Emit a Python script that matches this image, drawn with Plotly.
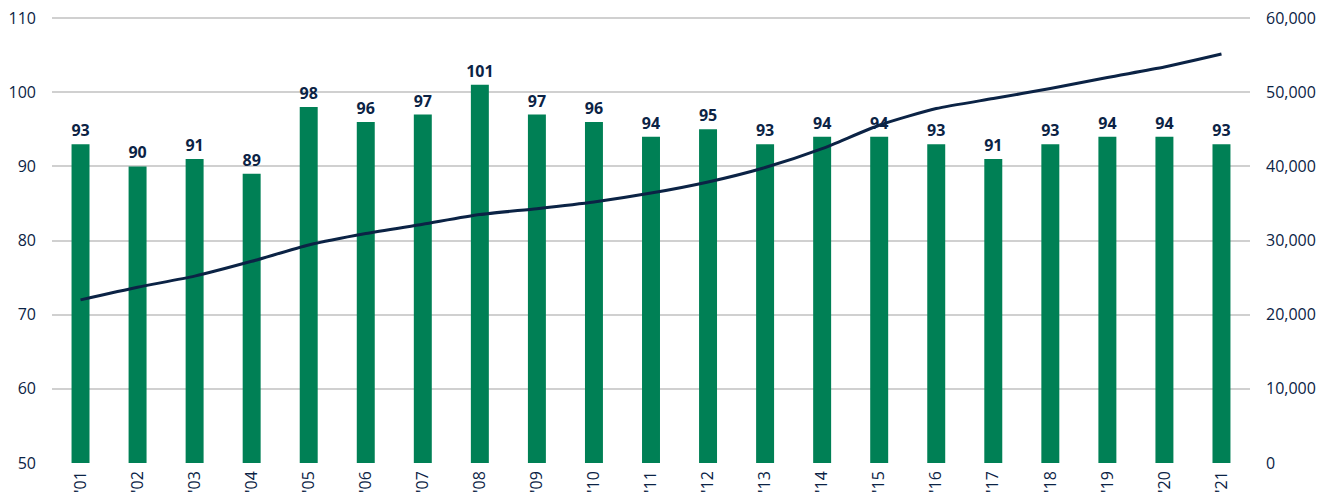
import plotly.graph_objects as go

years = ["'01", "'02", "'03", "'04", "'05", "'06", "'07", "'08", "'09", "'10", "'11",
         "'12", "'13", "'14", "'15", "'16", "'17", "'18", "'19", "'20", "'21"]
bar_values = [93, 90, 91, 89, 98, 96, 97, 101, 97, 96, 94, 95, 93, 94, 94, 93, 91, 93, 94, 94, 93]
line_values = [22000, 23700, 25200, 27200, 29400, 30950, 32200, 33500, 34300, 35200, 36400,
               37900, 39850, 42400, 45550, 47800, 49150, 50500, 52000, 53400, 55150]

navy = "#0b2345"
green = "#008055"
font_family = "Open Sans, Noto Sans, sans-serif"

fig = go.Figure()
fig.add_trace(go.Bar(
    x=years, y=bar_values,
    marker=dict(color=green, line=dict(width=0)),
    text=[str(v) for v in bar_values],
    textposition="outside",
    constraintext="none",
    textfont=dict(family=font_family, size=16, color=navy, weight="bold"),
    cliponaxis=False,
    yaxis="y",
))
fig.add_trace(go.Scatter(
    x=years, y=line_values,
    mode="lines",
    line=dict(color=navy, width=3, shape="spline", smoothing=0.6),
    yaxis="y2",
))

fig.update_layout(
    width=1321, height=488,
    margin=dict(l=44, r=79, t=9, b=33),
    paper_bgcolor="white", plot_bgcolor="white",
    showlegend=False,
    bargap=0.685,
    font=dict(family=font_family, size=16, color=navy),
    xaxis=dict(
        type="category", tickangle=-90, showgrid=False, zeroline=False,
        showline=False, ticks="", tickfont=dict(size=16, color=navy),
        ticklabelstandoff=4, automargin=False,
    ),
    yaxis=dict(
        range=[50, 110.15], tickvals=[50, 60, 70, 80, 90, 100, 110],
        showgrid=True, gridcolor="#d0d0d0", gridwidth=1.5,
        zeroline=False, showline=False, ticks="", ticklabelstandoff=15,
        ticklabeloverflow="allow",
        tickfont=dict(size=16, color=navy), automargin=False,
    ),
    yaxis2=dict(
        range=[0, 60150], tickvals=[0, 10000, 20000, 30000, 40000, 50000, 60000],
        overlaying="y", side="right",
        showgrid=False, zeroline=False, showline=False, ticks="",
        tickformat=",", ticklabelstandoff=15, ticklabeloverflow="allow",
        tickfont=dict(size=16, color=navy), automargin=False,
    ),
)

fig.write_html("out.html")
